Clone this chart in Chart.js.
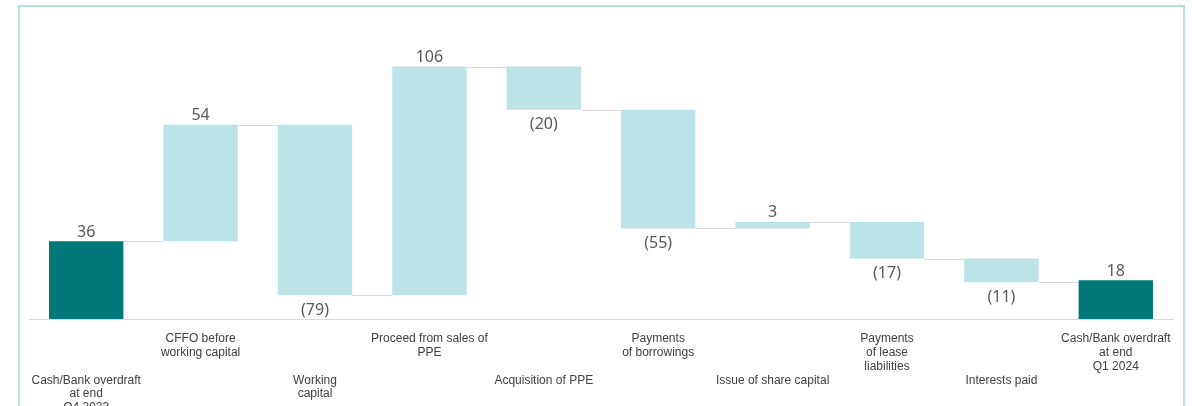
<html lang=en>
	<head>
		<title>Cash flow bridge</title>
		<meta http-equiv="content-type" content="text/html; charset=utf-8" />
		<script src="https://cdn.jsdelivr.net/npm/chart.js@4.4.1/dist/chart.umd.min.js"></script>
		<style>
			body { margin: 0; background: #fff; overflow: hidden; }
			#frame { position: absolute; left: 18px; top: 5px; width: 1163px; height: 500px; border: 2px solid #b4e1e2; }
			#myChart { position: absolute; left: 0; top: 0; }
		</style>
	</head>
	<body>
		<div id="frame"></div>
		<canvas id="myChart" width="1192" height="406"></canvas>
		<script>
		// categories (multi-line) and the movement for each step
		var categories = [
			["Cash/Bank overdraft", "at end", "Q4 2023"],
			["CFFO before", "working capital"],
			["Working", "capital"],
			["Proceed from sales of", "PPE"],
			["Acquisition of PPE"],
			["Payments", "of borrowings"],
			["Issue of share capital"],
			["Payments", "of lease", "liabilities"],
			["Interests paid"],
			["Cash/Bank overdraft", "at end", "Q1 2024"]
		];
		var changes = [36, 54, -79, 106, -20, -55, 3, -17, -11, 18];
		var isTotal = [true, false, false, false, false, false, false, false, false, true];
		// 1 = label sits on the lower row
		var lowerRow = [1, 0, 1, 0, 1, 0, 1, 0, 1, 0];

		var totalColor = '#00787a';
		var stepColor = '#bce3e5';

		// build floating bars
		var bars = [];
		var running = 0;
		for (var i = 0; i < changes.length; i++) {
			if (isTotal[i]) {
				bars.push([0, changes[i]]);
				running = changes[i];
			} else {
				bars.push([running, running + changes[i]]);
				running += changes[i];
			}
		}

		var fmt = function (v) {
			return v < 0 ? '(' + Math.abs(v) + ')' : '' + v;
		};

		var waterfallExtras = {
			id: 'waterfallExtras',
			beforeDatasetsDraw: function (chart) {
				var ctx = chart.ctx;
				var meta = chart.getDatasetMeta(0);
				var y = chart.scales.y;
				ctx.save();
				ctx.strokeStyle = '#d9d9d9';
				ctx.lineWidth = 1;
				for (var i = 0; i < meta.data.length - 1; i++) {
					var a = meta.data[i], b = meta.data[i + 1];
					var level = Math.round(y.getPixelForValue(bars[i][1])) + 0.5;
					ctx.beginPath();
					ctx.moveTo(a.x + a.width / 2, level);
					ctx.lineTo(b.x - b.width / 2, level);
					ctx.stroke();
				}
				ctx.restore();
			},
			afterDatasetsDraw: function (chart) {
				var ctx = chart.ctx;
				var meta = chart.getDatasetMeta(0);
				var y = chart.scales.y;
				ctx.save();
				ctx.font = '16px "Noto Sans"';
				ctx.fillStyle = '#595959';
				ctx.textAlign = 'center';
				for (var i = 0; i < meta.data.length; i++) {
					var el = meta.data[i];
					var top = y.getPixelForValue(Math.max(bars[i][0], bars[i][1]));
					var bottom = y.getPixelForValue(Math.min(bars[i][0], bars[i][1]));
					if (changes[i] >= 0) {
						ctx.textBaseline = 'bottom';
						ctx.fillText(fmt(changes[i]), el.x, top - 1);
					} else {
						ctx.textBaseline = 'top';
						ctx.fillText(fmt(changes[i]), el.x, bottom + 7);
					}
				}
				ctx.restore();
			}
		};

		var ctx = document.getElementById("myChart");
		var myChart = new Chart(ctx, {
			type: 'bar',
			data: {
				labels: categories,
				datasets: [{
					data: bars,
					backgroundColor: isTotal.map(function (t) { return t ? totalColor : stepColor; }),
					borderWidth: 0,
					borderSkipped: false,
					categoryPercentage: 1,
					barPercentage: 0.65
				}]
			},
			options: {
				responsive: false,
				animation: false,
				layout: { padding: { left: 29, right: 19, top: 17, bottom: 0 } },
				plugins: { legend: { display: false }, tooltip: { enabled: false } },
				scales: {
					x: {
						grid: { display: false },
						border: { color: '#d9d9d9', width: 1 },
						afterFit: function (scale) { scale.height = 87; },
						ticks: {
							autoSkip: false,
							maxRotation: 0,
							padding: 5,
							color: '#404040',
							font: { family: '"Liberation Sans"', size: 12, lineHeight: 1.15 },
							callback: function (value, index) {
								var lines = categories[index];
								return lowerRow[index] ? ['', '', ''].concat(lines) : lines;
							}
						}
					},
					y: {
						display: false,
						min: 0,
						max: 140
					}
				}
			},
			plugins: [waterfallExtras]
		});
		</script>
	</body>
</html>
